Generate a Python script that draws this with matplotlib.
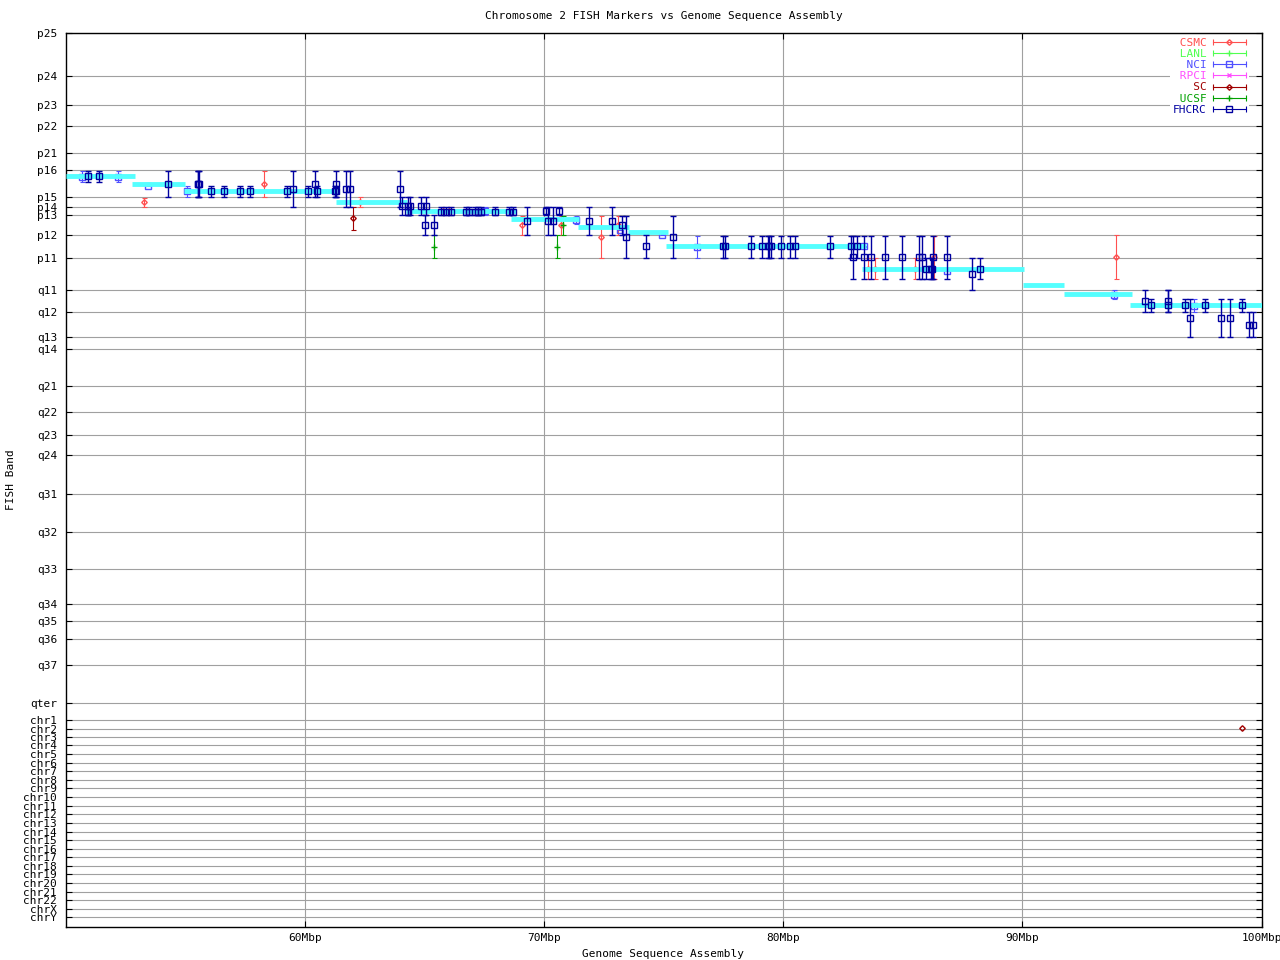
import numpy as np
import matplotlib
matplotlib.use("Agg")
import matplotlib.pyplot as plt
from matplotlib.lines import Line2D
from matplotlib.legend_handler import HandlerLine2D

#=================================================
#   band axis (arbitrary band coordinate, top = p25)
#=================================================
band_labels = ['p25', 'p24', 'p23', 'p22', 'p21', 'p16', 'p15', 'p14', 'p13', 'p12', 'p11',
               'q11', 'q12', 'q13', 'q14', 'q21', 'q22', 'q23', 'q24', 'q31', 'q32', 'q33',
               'q34', 'q35', 'q36', 'q37', 'qter',
               'chr1', 'chr2', 'chr3', 'chr4', 'chr5', 'chr6', 'chr7', 'chr8', 'chr9', 'chr10',
               'chr11', 'chr12', 'chr13', 'chr14', 'chr15', 'chr16', 'chr17', 'chr18', 'chr19',
               'chr20', 'chr21', 'chr22', 'chrX', 'chrY']
band_pos = [32.5, 76.3, 105.3, 126.3, 153.3, 170.3, 197.0, 207.3, 215.0, 235.3, 258.3,
            290.3, 312.3, 337.3, 349.3, 386.3, 412.3, 435.0, 455.0, 494.3, 532.3, 569.3,
            604.0, 621.3, 638.5, 665.3, 702.5,
            720.3, 728.7, 737.3, 745.3, 754.3, 763.0, 771.3, 780.0, 788.3, 797.3,
            806.0, 814.3, 823.3, 831.7, 840.3, 849.3, 857.0, 865.7, 874.0,
            883.0, 892.0, 900.3, 909.3, 917.3]
band_min, band_max = 32.5, 926.5

x_ticks = [60, 70, 80, 90, 100]
x_ticklabels = ['60Mbp', '70Mbp', '80Mbp', '90Mbp', '100Mbp']

#=================================================
#   assembly segments (start Mbp, end Mbp, band)
#=================================================
asm_start = [50.00, 52.80, 54.94, 61.30, 64.23, 68.62, 71.42, 73.51, 75.10, 83.31, 90.04, 91.76, 94.52]
asm_end   = [52.89, 54.98, 61.34, 64.27, 68.83, 71.46, 73.56, 75.19, 83.47, 90.08, 91.76, 94.60, 100.0]
asm_band  = [175.5, 184.3, 191.0, 201.7, 210.7, 219.2, 226.7, 231.7, 245.8, 268.7, 285.0, 294.0, 305.0]

#=================================================
#   FISH markers : position, band, band low, band high
#=================================================
csmc_x  = [53.27, 58.29, 62.30, 65.79, 66.05, 69.07, 70.70, 72.37, 73.09, 83.54, 83.83, 85.51, 86.31, 93.93]
csmc_y  = [202.3, 184.2, 202.2, 211.3, 211.3, 225.0, 225.0, 237.0, 225.3, 268.7, 268.7, 268.7, 257.3, 257.3]
csmc_lo = [197.5, 170.5, 197.3, 207.3, 207.3, 215.5, 215.5, 215.5, 215.5, 258.3, 258.3, 258.3, 235.5, 235.3]
csmc_hi = [207.2, 197.2, 207.3, 215.3, 215.3, 235.3, 235.3, 258.3, 235.3, 279.2, 279.2, 279.2, 279.2, 279.3]

lanl_x, lanl_y, lanl_lo, lanl_hi = [], [], [], []
rpci_x, rpci_y, rpci_lo, rpci_hi = [], [], [], []

nci_x  = [50.67, 52.19, 53.43, 55.06, 67.52, 71.34, 73.20, 74.94, 76.41, 83.40, 86.84, 93.85, 97.17]
nci_y  = [176.5, 176.5, 185.5, 191.3, 211.3, 219.7, 229.7, 234.5, 247.0, 246.3, 271.0, 294.8, 305.8]
nci_lo = [170.7, 170.7, 185.2, 185.5, 207.2, 215.5, 229.4, 234.2, 235.5, 246.0, 270.7, 290.3, 299.3]
nci_hi = [182.3, 182.3, 185.8, 197.2, 215.2, 223.8, 230.0, 234.8, 258.3, 246.6, 271.3, 299.3, 312.3]

sc_x  = [62.01]
sc_y  = [218.3]
sc_lo = [207.3]
sc_hi = [230.3]
sc_other_x = [99.18]     # hit on another chromosome
sc_other_y = [728.0]

ucsf_x  = [65.40, 70.55, 70.80]
ucsf_y  = [246.5, 246.5, 225.3]
ucsf_lo = [235.3, 235.3, 215.5]
ucsf_hi = [258.3, 258.3, 235.3]

fhcrc_x = [50.93, 51.39, 54.28, 55.53, 55.56, 55.59, 56.07, 56.62, 57.29, 57.70,
           59.25, 59.50, 60.13, 60.41, 60.51, 61.31, 61.28, 61.31, 61.71, 61.89,
           63.98, 64.06, 64.31, 64.42, 64.32, 64.85, 65.06, 65.02, 65.40,
           65.69, 65.92, 66.11, 66.75, 66.86, 67.14, 67.24, 67.38, 67.95, 68.53, 68.70,
           69.29, 70.08, 70.16, 70.40, 70.62, 71.88, 72.84, 73.26, 73.42, 74.26, 75.39,
           77.47, 77.58, 78.65, 79.13, 79.38, 79.43, 79.49, 79.90, 80.28, 80.51, 81.95,
           82.83, 83.10, 82.91, 83.37, 83.67, 84.25, 84.96, 85.69, 85.81,
           85.97, 86.20, 86.24, 86.26, 86.84, 87.89, 88.22,
           95.12, 95.37, 96.08, 96.08, 96.79, 97.00, 97.63, 98.30, 98.68, 99.18, 99.47, 99.64]
fhcrc_y = [176.0, 176.0, 184.3, 184.3, 184.3, 184.3, 191.0, 191.0, 191.0, 191.0,
           191.0, 189.3, 191.0, 184.3, 191.0, 184.3, 191.0, 191.0, 189.3, 189.3,
           189.3, 206.3, 206.3, 206.3, 211.5, 206.3, 206.3, 225.3, 225.3,
           211.5, 211.5, 211.5, 211.5, 211.5, 211.5, 211.5, 211.5, 211.5, 211.5, 211.5,
           221.3, 211.3, 221.3, 221.3, 211.3, 221.3, 221.3, 225.3, 237.2, 246.3, 237.2,
           246.3, 246.3, 246.3, 246.3, 246.3, 246.3, 246.3, 246.3, 246.3, 246.3, 246.3,
           246.3, 246.3, 257.3, 257.3, 257.3, 257.3, 257.3, 257.3, 257.3,
           269.2, 269.2, 269.2, 257.3, 257.3, 274.3, 269.2,
           301.0, 305.0, 301.0, 305.0, 305.0, 318.3, 305.0, 318.3, 318.3, 305.0, 325.0, 325.0]
fhcrc_lo = [170.7, 170.7, 170.5, 170.5, 170.5, 170.5, 185.5, 185.5, 185.5, 185.5,
            185.5, 170.5, 185.5, 170.5, 185.5, 170.5, 185.5, 185.5, 170.5, 170.5,
            170.5, 197.2, 197.2, 197.2, 207.2, 197.2, 197.2, 215.2, 215.2,
            207.2, 207.2, 207.2, 207.2, 207.2, 207.2, 207.2, 207.2, 207.2, 207.2, 207.2,
            207.2, 207.2, 207.2, 207.2, 207.2, 207.2, 207.2, 215.5, 215.5, 235.3, 215.5,
            235.5, 235.5, 235.5, 235.5, 235.5, 235.5, 235.5, 235.5, 235.5, 235.5, 235.5,
            235.5, 235.5, 235.5, 235.5, 235.5, 235.5, 235.5, 235.5, 235.5,
            258.3, 258.3, 258.3, 235.5, 235.5, 258.3, 258.3,
            290.3, 299.3, 290.3, 290.3, 299.3, 299.3, 299.3, 299.3, 299.3, 299.3, 312.3, 312.3]
fhcrc_hi = [182.3, 182.3, 197.2, 197.2, 197.2, 197.2, 197.2, 197.2, 197.2, 197.2,
            197.2, 207.2, 197.2, 197.2, 197.2, 197.2, 197.2, 197.2, 207.2, 207.2,
            207.2, 215.2, 215.2, 215.2, 215.2, 215.2, 215.2, 235.2, 235.2,
            215.2, 215.2, 215.2, 215.2, 215.2, 215.2, 215.2, 215.2, 215.2, 215.2, 215.2,
            235.2, 215.2, 235.2, 235.2, 215.2, 235.2, 235.2, 235.2, 258.3, 258.3, 258.3,
            258.3, 258.3, 258.3, 258.3, 258.3, 258.3, 258.3, 258.3, 258.3, 258.3, 258.3,
            258.3, 258.3, 279.2, 279.2, 279.2, 279.2, 279.2, 279.2, 279.2,
            279.2, 279.2, 279.2, 279.2, 279.2, 290.3, 279.2,
            312.3, 312.3, 312.3, 312.3, 312.3, 337.3, 312.3, 337.3, 337.3, 312.3, 337.3, 337.3]

#=================================================
#   series styles
#=================================================
series = [
    # name, color, marker, data
    ('CSMC',  '#ff5050', 'D', (csmc_x, csmc_y, csmc_lo, csmc_hi)),
    ('LANL',  '#50ff50', '+', (lanl_x, lanl_y, lanl_lo, lanl_hi)),
    ('NCI',   '#5050ff', 's', (nci_x, nci_y, nci_lo, nci_hi)),
    ('RPCI',  '#ff50ff', 'x', (rpci_x, rpci_y, rpci_lo, rpci_hi)),
    ('SC',    '#a00000', 'D', (sc_x, sc_y, sc_lo, sc_hi)),
    ('UCSF',  '#00a000', '+', (ucsf_x, ucsf_y, ucsf_lo, ucsf_hi)),
    ('FHCRC', '#0000a0', 's', (fhcrc_x, fhcrc_y, fhcrc_lo, fhcrc_hi)),
]
msize = {'D': 2.8, '+': 4.0, 's': 3.8, 'x': 3.0}

plt.rcParams['font.family'] = ['DejaVu Sans Mono']
plt.rcParams['font.size'] = 8

fig = plt.figure(figsize=(12.8, 9.6), dpi=100)
ax = fig.add_axes([65.5/1280, 1-926.5/960, (1261.5-65.5)/1280, (926.5-32.5)/960])

for name, color, marker, (x, y, lo, hi) in series:
    if len(x) == 0:
        continue
    y = np.array(y); lo = np.array(lo); hi = np.array(hi)
    big = name == 'FHCRC'
    z = 4 if big else 2
    ax.errorbar(x, y, yerr=[y-lo, hi-y], fmt='none', ecolor=color,
                elinewidth=1.0 if big else 0.8, capsize=2.1 if big else 1.8,
                capthick=1.0 if big else 0.8, zorder=z)
    ax.plot(x, y, ls='none', marker=marker, ms=msize[marker], mfc='none', mec=color,
            mew=1.0, zorder=z)

ax.plot(sc_other_x, sc_other_y, ls='none', marker='D', ms=2.8, mfc='none', mec='#a00000', mew=1.0, zorder=2)

# assembly segments drawn over the minor centres
for s, e, b in zip(asm_start, asm_end, asm_band):
    ax.plot([s, e], [b, b], color='#55ffff', lw=3.5, solid_capstyle='butt', zorder=3)

ax.set_xlim(50, 100)
ax.set_ylim(band_max, band_min)
ax.set_xticks(x_ticks)
ax.set_xticklabels(x_ticklabels)
ax.set_yticks(band_pos)
ax.set_yticklabels(band_labels)
ax.tick_params(direction='in', length=4.5, width=0.8, top=True, right=True, labelsize=8)
ax.tick_params(axis='y', pad=6)
ax.tick_params(axis='x', pad=5)
ax.grid(True, color='#a0a0a0', lw=0.8, zorder=0)
ax.set_axisbelow(True)
for sp in ax.spines.values():
    sp.set_linewidth(1.0)

ax.set_title('Chromosome 2 FISH Markers vs Genome Sequence Assembly', fontsize=8, pad=10)
ax.set_xlabel('Genome Sequence Assembly', fontsize=8, labelpad=4)
ax.set_ylabel('FISH Band', fontsize=8)
ax.yaxis.set_label_coords(-0.041, 0.5)

# gnuplot style key : text, then |--o--|
handles, labels, hmap = [], [], {}
for name, color, marker, _ in series:
    caps = Line2D([], [], color=color, lw=0.8, marker='|', ms=3.8, mew=0.8)
    mid = Line2D([], [], color=color, lw=0, marker=marker, ms=msize[marker], mfc='none', mec=color, mew=1.0)
    hmap[caps] = HandlerLine2D(numpoints=2, marker_pad=0)
    hmap[mid] = HandlerLine2D(numpoints=1)
    handles.append((caps, mid))
    labels.append(name.rjust(5))
leg = ax.legend(handles, labels, handler_map=hmap, loc='upper right',
                bbox_to_anchor=(1 - 6/1196, 1 + 4.5/894), markerfirst=False,
                frameon=True, framealpha=1, edgecolor='none', fancybox=False,
                fontsize=8, handlelength=2.9, handletextpad=0.6, labelspacing=0.1,
                borderpad=0.3, borderaxespad=0.6)
leg.set_zorder(6)
for t, (name, color, marker, _) in zip(leg.get_texts(), series):
    t.set_color(color)

fig.savefig('out.png', dpi=100)
